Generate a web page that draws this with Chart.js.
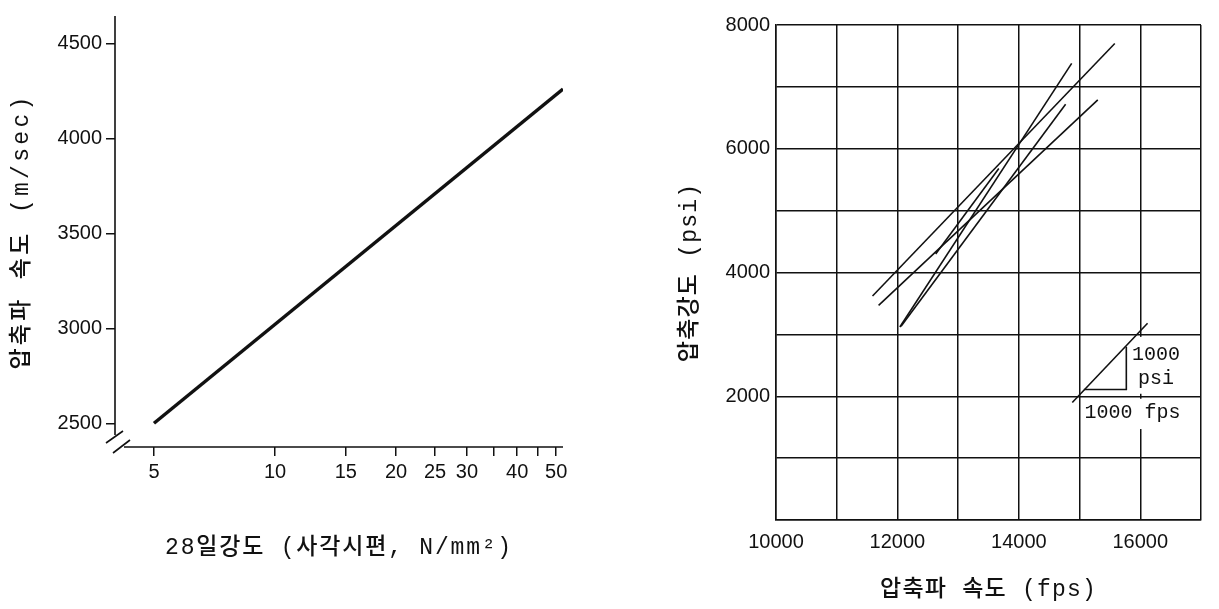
<!DOCTYPE html>
<html>
<head>
<meta charset="utf-8">
<title>압축파 속도와 강도</title>
<style>
  html, body { margin: 0; padding: 0; background: #fff; }
  #wrap { position: relative; width: 1219px; height: 609px; }
  #left { position: absolute; left: 0; top: 0; }
  #right { position: absolute; left: 600px; top: 0; }
</style>
</head>
<body>
<div id="wrap">
  <canvas id="left" width="600" height="609"></canvas>
  <canvas id="right" width="619" height="609"></canvas>
</div>
<script src="https://cdn.jsdelivr.net/npm/chart.js@4.4.1/dist/chart.umd.min.js"></script>
<script>
// left chart: 28일강도 vs 압축파 속도
const strengthTicks = [5, 10, 15, 20, 25, 30, 35, 40, 45, 50];
const strengthLabels = [5, 10, 15, 20, 25, 30, 40, 50];
const strength = [5, 52];          // N/mm2
const velocityMs = [2500, 4260];   // m/sec
const velocityTicks = [2500, 3000, 3500, 4000, 4500];

// right chart: 압축파 속도 (fps) vs 압축강도 (psi), one pair per line
const fps1 = [11590, 15580], psi1 = [3620, 7700];
const fps2 = [11690, 15300], psi2 = [3470, 6790];
const fps3 = [12040, 14870], psi3 = [3120, 7380];
const fps4 = [12630, 13670], psi4 = [4300, 5680];
const fps5 = [12060, 14770], psi5 = [3130, 6720];
// slope key (1000 psi / 1000 fps)
const keyFps = [14880, 16120], keyPsi = [1900, 3180];
const triFps = [15070, 15770, 15770], triPsi = [2110, 2110, 2800];
const fpsLabels = [10000, 12000, 14000, 16000];
const psiLabels = [2000, 4000, 6000, 8000];

Chart.defaults.animation = false;
Chart.defaults.color = '#111';
Chart.defaults.plugins.legend.display = false;
Chart.defaults.plugins.tooltip.enabled = false;

const ink = '#111';
const tickFont = { family: "'Liberation Sans', sans-serif", size: 20 };
const titleFont = { family: "'Liberation Mono', 'Noto Sans CJK KR', monospace", size: 23, weight: '500' };

function pts(xs, ys) { return xs.map((v, i) => ({ x: v, y: ys[i] })); }

// wider letter spacing for the axis titles
const spacing = { left: { x: 1.8, y: 3.3 }, right: { x: 1.2, y: 1.2 } };
const spacedTitles = {
  id: 'spacedTitles',
  beforeDraw(chart) {
    const sp = spacing[chart.canvas.id];
    Object.values(chart.scales).forEach(s => {
      if (s._spaced) return;
      const orig = s.drawTitle;
      s.drawTitle = function () {
        this.ctx.save();
        this.ctx.letterSpacing = sp[this.id] + 'px';
        orig.call(this);
        this.ctx.restore();
      };
      s._spaced = true;
    });
  }
};

// axis lines with the // break at the corner
const axisBreak = {
  id: 'axisBreak',
  afterDraw(chart) {
    const { ctx, chartArea: a } = chart;
    ctx.save();
    ctx.strokeStyle = ink;
    ctx.lineWidth = 1.6;
    ctx.beginPath();
    ctx.moveTo(a.left, a.top);
    ctx.lineTo(a.left, a.bottom - 12);
    ctx.moveTo(a.left + 9, a.bottom);
    ctx.lineTo(a.right, a.bottom);
    ctx.moveTo(a.left - 9, a.bottom - 4);
    ctx.lineTo(a.left + 8, a.bottom - 16);
    ctx.moveTo(a.left - 2, a.bottom + 6);
    ctx.lineTo(a.left + 15, a.bottom - 7);
    ctx.stroke();
    ctx.restore();
  }
};

new Chart(document.getElementById('left'), {
  type: 'scatter',
  data: {
    datasets: [{
      data: pts(strength, velocityMs),
      showLine: true, borderColor: ink, borderWidth: 3.5, pointRadius: 0
    }]
  },
  options: {
    responsive: false,
    layout: { padding: { left: 0, top: 10, right: 37, bottom: 0 } },
    scales: {
      x: {
        type: 'logarithmic', min: 4, max: 52,
        afterBuildTicks: s => { s.ticks = strengthTicks.map(v => ({ value: v })); },
        afterFit: s => { s.height = 162; },
        grid: { drawOnChartArea: false, tickLength: 9, color: ink, lineWidth: 1.5 },
        border: { display: false },
        ticks: {
          font: tickFont, padding: 4, maxRotation: 0, autoSkip: false,
          callback: v => strengthLabels.includes(v) ? String(v) : ''
        },
        title: { display: true, text: '28일강도 (사각시편, N/mm²)', font: titleFont, padding: { top: 0, bottom: 47 } }
      },
      y: {
        min: 2375, max: 4645,
        afterBuildTicks: s => { s.ticks = velocityTicks.map(v => ({ value: v })); },
        afterFit: s => { s.width = 115; },
        grid: { drawOnChartArea: false, tickLength: 9, color: ink, lineWidth: 1.5 },
        border: { display: false },
        ticks: { font: tickFont, padding: 4, callback: v => String(v) },
        title: { display: true, text: '압축파 속도 (m/sec)', font: titleFont, padding: { top: 8, bottom: 0 } }
      }
    }
  },
  plugins: [axisBreak, spacedTitles]
});

// white patches and text for the slope key
const noteBoxes = [[15880, 16700, 2960, 2040], [15080, 16680, 1960, 1470]];
const notes = [['1000', 16260, 2667], ['psi', 16260, 2284], ['1000 fps', 15870, 1738]];
const scaleNote = {
  id: 'scaleNote',
  beforeDatasetsDraw(chart) {
    const { ctx, scales: { x, y } } = chart;
    ctx.save();
    ctx.fillStyle = '#fff';
    noteBoxes.forEach(b => {
      const l = x.getPixelForValue(b[0]), r = x.getPixelForValue(b[1]);
      const t = y.getPixelForValue(b[2]), btm = y.getPixelForValue(b[3]);
      ctx.fillRect(l, t, r - l, btm - t);
    });
    ctx.restore();
  },
  afterDatasetsDraw(chart) {
    const { ctx, scales: { x, y } } = chart;
    ctx.save();
    ctx.fillStyle = ink;
    ctx.font = "20px 'Liberation Mono', monospace";
    ctx.textAlign = 'center';
    ctx.textBaseline = 'middle';
    notes.forEach(n => ctx.fillText(n[0], x.getPixelForValue(n[1]), y.getPixelForValue(n[2])));
    ctx.restore();
  }
};

const thin = { showLine: true, borderColor: ink, borderWidth: 1.6, pointRadius: 0 };
new Chart(document.getElementById('right'), {
  type: 'scatter',
  data: {
    datasets: [
      Object.assign({ data: pts(fps1, psi1) }, thin),
      Object.assign({ data: pts(fps2, psi2) }, thin),
      Object.assign({ data: pts(fps3, psi3) }, thin),
      Object.assign({ data: pts(fps4, psi4) }, thin),
      Object.assign({ data: pts(fps5, psi5) }, thin),
      Object.assign({ data: pts(keyFps, keyPsi) }, thin),
      Object.assign({ data: pts(triFps, triPsi) }, thin)
    ]
  },
  options: {
    responsive: false,
    layout: { padding: { left: 0, top: 25, right: 18, bottom: 0 } },
    scales: {
      x: {
        min: 10000, max: 17000,
        afterFit: s => { s.height = 89; },
        grid: { color: ink, lineWidth: 1.5, drawTicks: false },
        border: { color: ink, width: 1.5 },
        ticks: {
          stepSize: 1000, font: tickFont, padding: 10, maxRotation: 0, autoSkip: false,
          callback: v => fpsLabels.includes(v) ? String(v) : ''
        },
        title: { display: true, text: '압축파 속도 (fps)', font: titleFont, padding: { top: 0, bottom: 5 } }
      },
      y: {
        min: 0, max: 8000,
        afterFit: s => { s.width = 176; },
        grid: { color: ink, lineWidth: 1.5, drawTicks: false },
        border: { color: ink, width: 1.5 },
        ticks: {
          stepSize: 1000, font: tickFont, padding: 6,
          callback: v => psiLabels.includes(v) ? String(v) : ''
        },
        title: { display: true, text: '압축강도 (psi)', font: titleFont, padding: { top: 76, bottom: 0 } }
      }
    }
  },
  plugins: [scaleNote, spacedTitles]
});
</script>
</body>
</html>
